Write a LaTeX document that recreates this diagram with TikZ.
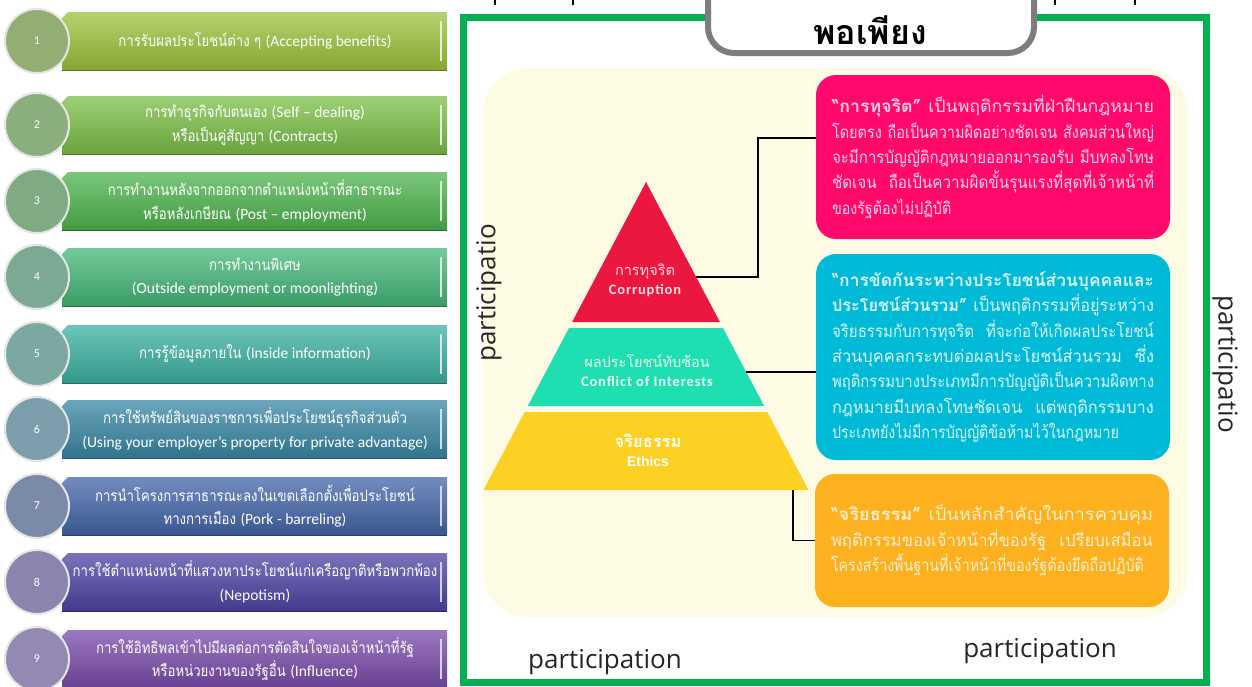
\documentclass[tikz,border=0pt]{standalone}
\usepackage{graphicx}
\usepackage{fontspec}
\setmainfont{Open Sans}
\newfontfamily\thai[Script=Thai]{Loma}
\newfontfamily\thaiL[Script=Thai,FakeStretch=0.85]{Loma}
\newfontfamily\thaiN[Script=Thai,FakeStretch=0.84]{Loma}
\newfontfamily\lat{Carlito}
\newfontfamily\partfont{Open Sans}
\newfontfamily\arialf{Liberation Sans}
\definecolor{frameG}{HTML}{00B050}
\definecolor{creamP}{HTML}{FEFBE4}
\definecolor{pinkB}{HTML}{FF0A6C}
\definecolor{blueB}{HTML}{00BAD8}
\definecolor{orangeB}{HTML}{FDB11F}
\definecolor{redP}{HTML}{EC1740}
\definecolor{tealP}{HTML}{1EDFB2}
\definecolor{yelP}{HTML}{FDD123}
\definecolor{bc1}{HTML}{9CC33C}\definecolor{cc1}{HTML}{93AE72}
\definecolor{bc2}{HTML}{7CC048}\definecolor{cc2}{HTML}{8BAF7C}
\definecolor{bc3}{HTML}{4FB54E}\definecolor{cc3}{HTML}{80AA84}
\definecolor{bc4}{HTML}{45B878}\definecolor{cc4}{HTML}{7CA993}
\definecolor{bc5}{HTML}{3CB2A2}\definecolor{cc5}{HTML}{7CA8A2}
\definecolor{bc6}{HTML}{3A88A6}\definecolor{cc6}{HTML}{7C9EAA}
\definecolor{bc7}{HTML}{4466AA}\definecolor{cc7}{HTML}{7C8AAA}
\definecolor{bc8}{HTML}{4E44A4}\definecolor{cc8}{HTML}{8A84AE}
\definecolor{bc9}{HTML}{7A4CAC}\definecolor{cc9}{HTML}{9489B2}
\newcommand\listrow[3]{% #1 index, #2 y centre, #3 text
  \shade[top color=bc#1!75!white, bottom color=bc#1!85!black]
    (62,#2-23) -- (68,#2-29) -- (447,#2-29) -- (447,#2+29) -- (62,#2+29) -- cycle;
  \draw[white!75!bc#1, line width=1.2pt] (441,#2-20) -- (441,#2+20);
  \draw[bc#1!60!black, line width=1pt] (62,#2+29) -- (447,#2+29);
  \node[circ, fill=cc#1] (c#1) at (37,#2) {#1};
  \node[btext] (t#1) at (255,#2) {#3};
}
\newcommand\jl[1]{\resizebox{322pt}{\height}{#1}}
\begin{document}
\begin{tikzpicture}[x=1pt,y=-1pt,
  circ/.style={circle, minimum size=64pt, inner sep=0pt, draw=white!80!gray, line width=2pt,
    text=white, font=\lat\fontsize{12}{14}\selectfont},
  btext/.style={text=white, align=center, font=\thaiL\fontsize{15.5}{23.5}\selectfont},
  boxstyle/.style={rounded corners=20pt, minimum width=354pt, inner sep=0pt, text width=322pt,
    align=left, font=\thaiN\fontsize{17}{25.3}\selectfont},
  conn/.style={draw=black, line width=1.8pt},
  tick/.style={draw=black, line width=1.3pt},
  partlab/.style={font=\partfont\fontsize{26}{28}\selectfont, text=black!85, inner sep=0pt},
  pyrtext/.style={align=center, font=\fontsize{14.5}{19}\selectfont}]
\useasboundingbox (0,0) rectangle (1252,686);
\begin{scope}
\clip (0,0) rectangle (1252,686);
\fill[white] (0,0) rectangle (1252,686);
% ---------- left list ----------
\listrow{1}{41}{การรับผลประโยชน์ต่าง ๆ {\lat (Accepting benefits)}}
\listrow{2}{125}{การทำธุรกิจกับตนเอง {\lat (Self – dealing)}\\หรือเป็นคู่สัญญา {\lat (Contracts)}}
\listrow{3}{201}{การทำงานหลังจากออกจากตำแหน่งหน้าที่สาธารณะ\\หรือหลังเกษียณ {\lat (Post – employment)}}
\listrow{4}{277}{การทำงานพิเศษ\\{\lat (Outside employment or moonlighting)}}
\listrow{5}{354}{การรู้ข้อมูลภายใน {\lat (Inside information)}}
\listrow{6}{429}{การใช้ทรัพย์สินของราชการเพื่อประโยชน์ธุรกิจส่วนตัว\\{\lat (Using your employer’s property for private advantage)}}
\listrow{7}{506}{การนำโครงการสาธารณะลงในเขตเลือกตั้งเพื่อประโยชน์\\ทางการเมือง {\lat (Pork - barreling)}}
\listrow{8}{582}{การใช้ตำแหน่งหน้าที่แสวงหาประโยชน์แก่เครือญาติหรือพวกพ้อง\\{\lat (Nepotism)}}
\listrow{9}{659}{การใช้อิทธิพลเข้าไปมีผลต่อการตัดสินใจของเจ้าหน้าที่รัฐ\\หรือหน่วยงานของรัฐอื่น {\lat (Influence)}}
% ---------- descender remnants at the top edge ----------
\draw[tick] (495,0) -- (495,5);
\draw[tick] (573,0) -- (573,5);
\draw[tick] (1055,0) -- (1055,5);
\draw[tick] (1135,0) -- (1135,5);
% ---------- green frame ----------
\draw[frameG, line width=7pt] (463,17) rectangle (1206,682);
% ---------- title box ----------
\draw[gray!98!black, line width=6pt, fill=white, rounded corners=26pt] (708,-40) rectangle (1034,53);
\node[font=\thai\bfseries\fontsize{34}{36}\selectfont, inner sep=0pt] (title) at (870,30) {พอเพียง};
% ---------- cream panel ----------
\fill[creamP, rounded corners=45pt] (483,68) rectangle (1188,617);
% ---------- pyramid ----------
\fill[redP] (646,182) -- (719.9,322) -- (572.1,322) -- cycle;
\fill[tealP] (569,328) -- (723,328) -- (764.2,406) -- (527.8,406) -- cycle;
\fill[yelP] (524.7,412) -- (767.3,412) -- (808.5,490) -- (483.5,490) -- cycle;
\node[pyrtext, text=red!12!white] (pc) at (645,280) {{\thai การทุจริต}\\{\lat\bfseries\addfontfeature{LetterSpace=6} Corruption}};
\node[pyrtext, text=green!8!white] (pt) at (647,371) {{\thai ผลประโยชน์ทับซ้อน}\\{\lat\bfseries\addfontfeature{LetterSpace=6} Conflict of Interests}};
\node[pyrtext, text=white] (pe) at (648,450) {{\thai\bfseries\fontsize{16.5}{19}\selectfont จริยธรรม}\\{\arialf\bfseries\fontsize{14}{19}\selectfont Ethics}};
\coordinate (redR) at (696,277);
\coordinate (tealR) at (746,372);
\coordinate (yelB) at (793,490);
% ---------- description boxes ----------
\node[boxstyle, fill=pinkB, minimum height=164pt, text=white!82!pinkB] (pink) at (993,157)
 {\rule{0pt}{17pt}\jl{{\bfseries “การทุจริต”} เป็นพฤติกรรมที่ฝ่าฝืนกฎหมาย}\\
  \jl{โดยตรง ถือเป็นความผิดอย่างชัดเจน สังคมส่วนใหญ่}\\
  \jl{จะมีการบัญญัติกฎหมายออกมารองรับ มีบทลงโทษ}\\
  \jl{ชัดเจน~ ถือเป็นความผิดขั้นรุนแรงที่สุดที่เจ้าหน้าที่}\\
  ของรัฐต้องไม่ปฏิบัติ};
\node[boxstyle, fill=blueB, minimum height=206pt, text=white!85!blueB] (blue) at (993,357)
 {\jl{{\bfseries “การขัดกันระหว่างประโยชน์ส่วนบุคคลและ}}\\
  \jl{{\bfseries ประโยชน์ส่วนรวม”} เป็นพฤติกรรมที่อยู่ระหว่าง}\\
  \jl{จริยธรรมกับการทุจริต~ ที่จะก่อให้เกิดผลประโยชน์}\\
  \jl{ส่วนบุคคลกระทบต่อผลประโยชน์ส่วนรวม~ ซึ่ง}\\
  \jl{พฤติกรรมบางประเภทมีการบัญญัติเป็นความผิดทาง}\\
  \jl{กฎหมายมีบทลงโทษชัดเจน~ แต่พฤติกรรมบาง}\\
  ประเภทยังไม่มีการบัญญัติข้อห้ามไว้ในกฎหมาย};
\node[boxstyle, fill=orangeB, minimum height=133pt, text=white!80!orangeB] (orange) at (992,540.5)
 {\jl{{\bfseries “จริยธรรม”} เป็นหลักสำคัญในการควบคุม}\\
  \jl{พฤติกรรมของเจ้าหน้าที่ของรัฐ~ เปรียบเสมือน}\\
  โครงสร้างพื้นฐานที่เจ้าหน้าที่ของรัฐต้องยึดถือปฏิบัติ};
\coordinate (pinkIn) at (pink.west |- 0,138);
% ---------- connectors ----------
\draw[conn] (redR) -- (758,277) |- (pinkIn);
\draw[conn] (tealR) -- (tealR -| blue.west);
\draw[conn] (yelB) |- (orange.west);
% ---------- participation labels ----------
\node[partlab, rotate=90] (pl) at (489,293) {participatio};
\node[partlab, rotate=-90] (pr) at (1225,364) {participatio};
\node[partlab, anchor=base] (pbl) at (605,668) {participation};
\node[partlab, anchor=base] (pbr) at (1040,657) {participation};
\end{scope}
\end{tikzpicture}
\end{document}
